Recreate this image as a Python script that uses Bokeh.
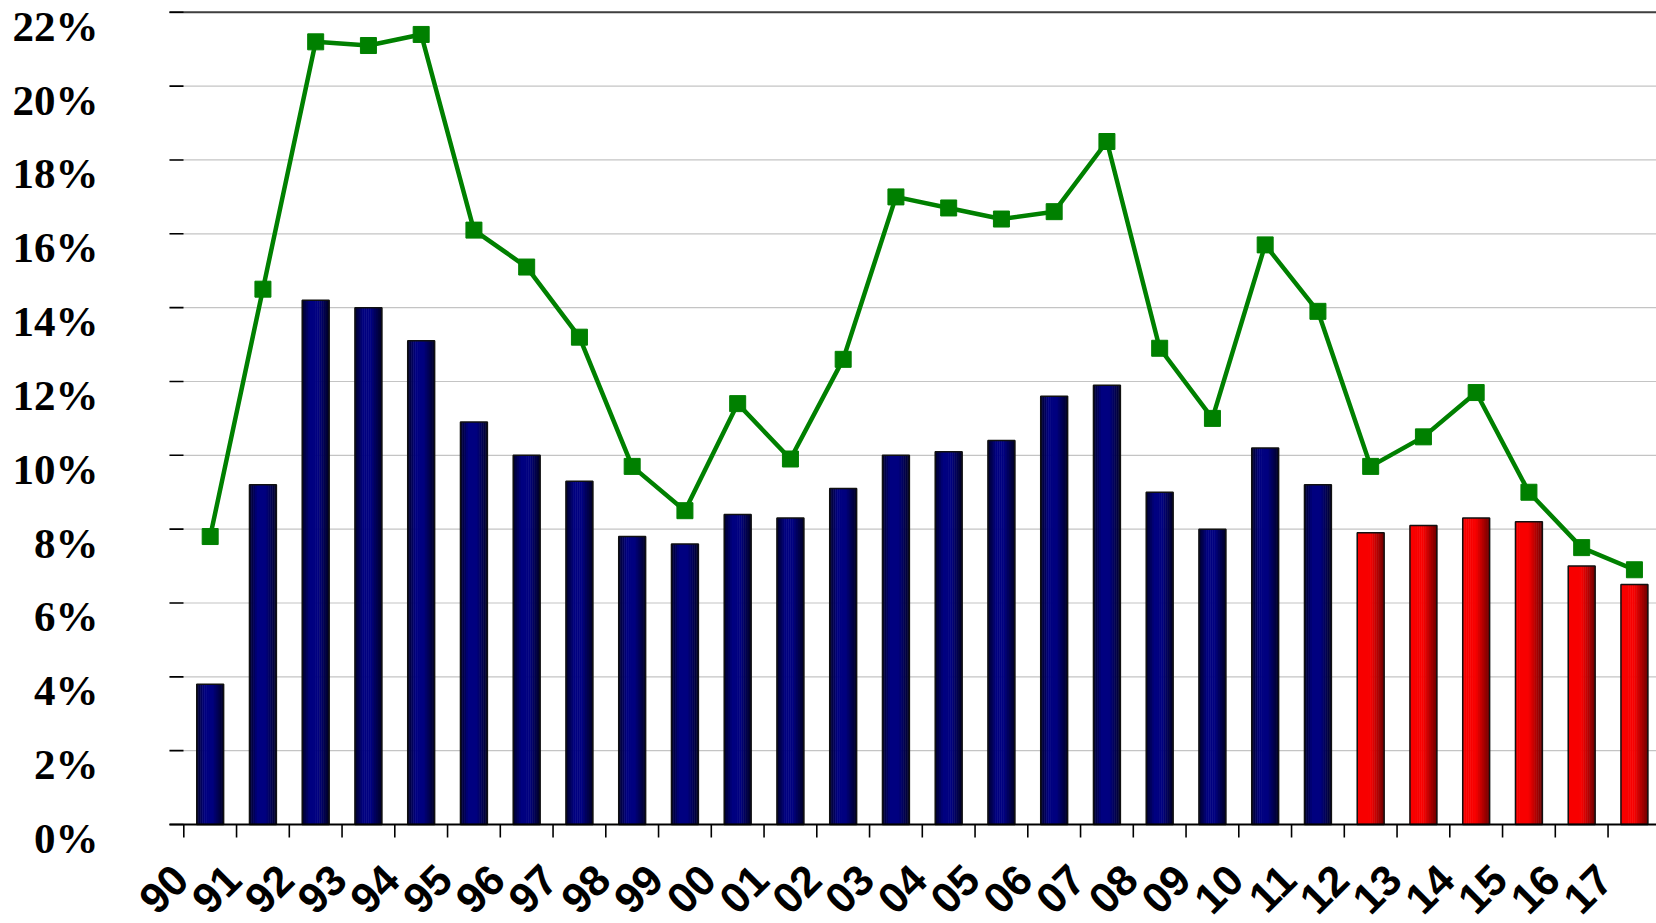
import math
from bokeh.plotting import figure
from bokeh.models import Range1d, ColumnDataSource, LabelSet
from bokeh.core.properties import value
from bokeh.embed import file_html
from bokeh.resources import INLINE

# ---------------- data ----------------
years = ["90", "91", "92", "93", "94", "95", "96", "97", "98", "99",
         "00", "01", "02", "03", "04", "05", "06", "07", "08", "09",
         "10", "11", "12", "13", "14", "15", "16", "17"]
bar_values = [3.8, 9.2, 14.2, 14.0, 13.1, 10.9, 10.0, 9.3, 7.8, 7.6,
              8.4, 8.3, 9.1, 10.0, 10.1, 10.4, 11.6, 11.9, 9.0, 8.0,
              10.2, 9.2, 7.9, 8.1, 8.3, 8.2, 7.0, 6.5]
line_values = [7.8, 14.5, 21.2, 21.1, 21.4, 16.1, 15.1, 13.2, 9.7, 8.5,
               11.4, 9.9, 12.6, 17.0, 16.7, 16.4, 16.6, 18.5, 12.9, 11.0,
               15.7, 13.9, 9.7, 10.5, 11.7, 9.0, 7.5, 6.9]
forecast_start = "12"          # bars from this year on are red
y_ticks = [0, 2, 4, 6, 8, 10, 12, 14, 16, 18, 20, 22]
y_tick_labels = ["0%", "2%", "4%", "6%", "8%", "10%", "12%", "14%",
                 "16%", "18%", "20%", "22%"]

# ---------------- layout / style ----------------
W, H = 1656, 923
AREA_LEFT = 169           # left edge of the plotting area (px)
CAT_PX = 52.75            # pixels per category
FIRST_TICK_PX = 183.3     # screen x of first category boundary
ZERO_PX, TOP_PX = 824, 11.8  # screen y of 0% and 22%
BAR_W = 0.51
N_STRIPS = 14

px_per_unit = (ZERO_PX - TOP_PX) / 22.0
x_start = -FIRST_TICK_PX / CAT_PX
x_end = x_start + W / CAT_PX
x_area = -(FIRST_TICK_PX - AREA_LEFT) / CAT_PX
y_end = 22 + TOP_PX / px_per_unit
y_start = -(H - ZERO_PX) / px_per_unit


def grad_color(t, red):
    if red:
        f = 1.0 if t < 0.5 else 1.0 - (t - 0.5) / 0.5 * 0.55
        return "#%02x%02x%02x" % (int(248 * f), 0, 0)
    if t < 0.3:
        f = 0.3 + 0.7 * t / 0.3
    elif t < 0.6:
        f = 1.0
    else:
        f = 1.0 - (t - 0.6) / 0.4 * 0.7
    return "#%02x%02x%02x" % (0, 0, int(128 * f))


n = len(years)
split = years.index(forecast_start)
centers = [i + 0.5 for i in range(n)]
bounds = list(range(n))

p = figure(width=W, height=H,
           x_range=Range1d(x_start, x_end), y_range=Range1d(y_start, y_end),
           output_backend="svg", toolbar_location=None,
           min_border_left=0, min_border_right=0,
           min_border_top=0, min_border_bottom=0)
p.outline_line_color = None
p.xaxis.visible = False
p.yaxis.visible = False
p.xgrid.visible = False
p.ygrid.visible = False

# horizontal grid lines over the plotting area
p.segment(x0=[x_area] * len(y_ticks), x1=[x_end] * len(y_ticks),
          y0=y_ticks, y1=y_ticks, line_color="#c4c4c4", line_width=1.2)

# gradient bars built from strips
sx, stop, scol = [], [], []
for i, v in enumerate(bar_values):
    red = i >= split
    for k in range(N_STRIPS):
        t = (k + 0.5) / N_STRIPS
        sx.append(centers[i] - BAR_W / 2 + t * BAR_W)
        stop.append(v)
        scol.append(grad_color(t, red))
p.vbar(x=sx, top=stop, bottom=0, width=BAR_W / N_STRIPS * 1.25,
       fill_color=scol, line_color=None)
p.vbar(x=centers, top=bar_values, bottom=0, width=BAR_W,
       fill_color=None, line_color="#111111", line_width=1.5)

# top border line and x axis line
p.segment(x0=[x_area], x1=[x_end], y0=[y_ticks[-1]], y1=[y_ticks[-1]],
          line_color="#404040", line_width=2)
p.segment(x0=[x_area], x1=[x_end], y0=[0], y1=[0],
          line_color="black", line_width=2)

# y ticks (inward) and x ticks (outward)
p.ray(x=[x_area] * len(y_ticks), y=y_ticks, length=14, length_units="screen",
      angle=0, line_color="black", line_width=1.6)
p.ray(x=bounds, y=[0] * n, length=13, length_units="screen",
      angle=-math.pi / 2, line_color="black", line_width=1.6)

# green line
p.line(centers, line_values, line_color="#008000", line_width=4.5)
p.scatter(centers, line_values, marker="square", size=16,
          fill_color="#008000", line_color="#008000")

# y labels
ysrc = ColumnDataSource(dict(x=[x_area] * len(y_ticks), y=y_ticks,
                             text=y_tick_labels))
p.add_layout(LabelSet(x="x", y="y", text="text", source=ysrc,
                      x_offset=-71, y_offset=-14,
                      text_align="right", text_baseline="middle",
                      text_font=value("Liberation Serif"),
                      text_font_style="bold",
                      text_font_size=value("43px"), text_color="black"))

# x labels (rotated, anchored at the category's left boundary tick)
xsrc = ColumnDataSource(dict(x=bounds, y=[0] * n, text=years))
p.add_layout(LabelSet(x="x", y="y", text="text", source=xsrc,
                      x_offset=-3, y_offset=-48, angle=math.pi / 4,
                      text_align="right", text_baseline="middle",
                      text_font=value("Liberation Sans"),
                      text_font_style="bold",
                      text_font_size=value("43px"), text_color="black"))

open("out.html", "w").write(file_html(p, INLINE))
